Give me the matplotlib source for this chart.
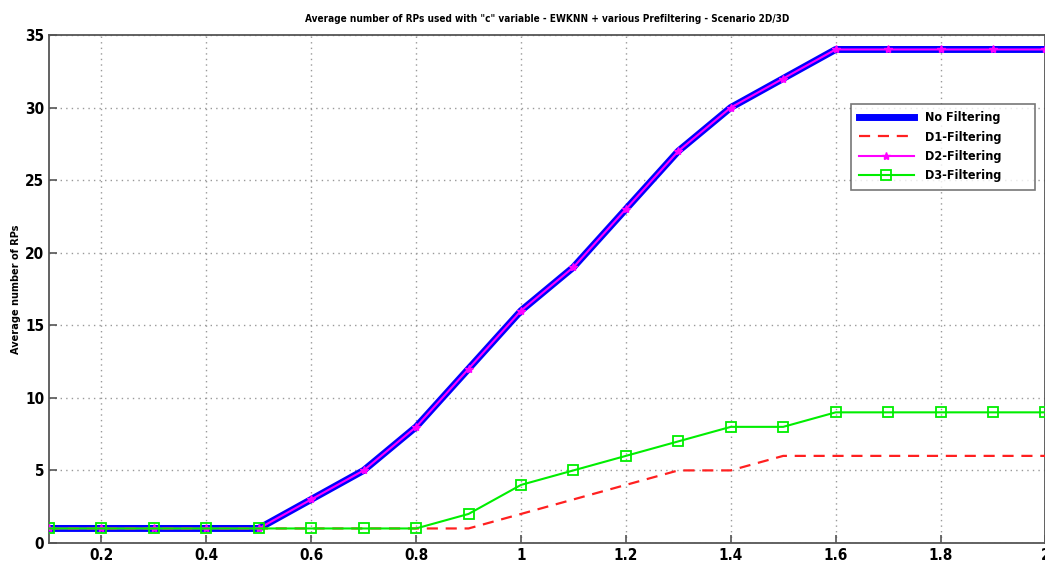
import matplotlib
matplotlib.use("Agg")
import matplotlib.pyplot as plt
from matplotlib import font_manager

# Data: average number of RPs versus the "c" parameter
c_values = [0.1, 0.2, 0.3, 0.4, 0.5, 0.6, 0.7, 0.8, 0.9, 1.0,
            1.1, 1.2, 1.3, 1.4, 1.5, 1.6, 1.7, 1.8, 1.9, 2.0]
no_filtering = [1, 1, 1, 1, 1, 3, 5, 8, 12, 16, 19, 23, 27, 30, 32, 34, 34, 34, 34, 34]
d1_filtering = [1, 1, 1, 1, 1, 1, 1, 1, 1, 2, 3, 4, 5, 5, 6, 6, 6, 6, 6, 6]
d2_filtering = [1, 1, 1, 1, 1, 3, 5, 8, 12, 16, 19, 23, 27, 30, 32, 34, 34, 34, 34, 34]
d3_filtering = [1, 1, 1, 1, 1, 1, 1, 1, 2, 4, 5, 6, 7, 8, 8, 9, 9, 9, 9, 9]

x_ticks = [0.2, 0.4, 0.6, 0.8, 1.0, 1.2, 1.4, 1.6, 1.8, 2.0]
x_tick_labels = ["0.2", "0.4", "0.6", "0.8", "1", "1.2", "1.4", "1.6", "1.8", "2"]
y_ticks = [0, 5, 10, 15, 20, 25, 30, 35]

# Prefer a condensed bold face when one is installed
condensed = [f for f in font_manager.fontManager.ttflist
             if ("Narrow" in f.name or "Condensed" in f.fname or "condensed" in str(f.stretch))
             and f.weight in ("bold", 700)]
if condensed:
    plt.rcParams["font.family"] = [condensed[0].name, "DejaVu Sans"]
    plt.rcParams["font.stretch"] = "condensed"
    scale = 1.0
else:
    plt.rcParams["font.family"] = ["Liberation Sans", "DejaVu Sans"]
    scale = 0.85
plt.rcParams["font.weight"] = "bold"

fig = plt.figure(figsize=(10.45, 5.75), dpi=100)
ax = fig.add_axes([0.0469, 0.0557, 0.9535, 0.8835])

ax.plot(c_values, no_filtering, color="#0000ff", lw=5, label="No Filtering", zorder=3)
ax.plot(c_values, d1_filtering, color="#ff2020", lw=1.6, ls=(0, (5, 3.5)), label="D1-Filtering", zorder=3)
ax.plot(c_values, d2_filtering, color="#ff00ff", lw=1.5, marker="*", ms=6,
        label="D2-Filtering", zorder=4)
ax.plot(c_values, d3_filtering, color="#00ee00", lw=1.5, marker="s", ms=7,
        mfc="none", mew=1.3, label="D3-Filtering", zorder=4)

ax.set_xlim(0.1, 2.0)
ax.set_ylim(0, 35)
ax.set_xticks(x_ticks)
ax.set_xticklabels(x_tick_labels)
ax.set_yticks(y_ticks)
ax.tick_params(direction="in", length=6, width=1.2, color="#555555", labelsize=11 * scale)
ax.grid(True, ls=(0, (1, 3)), color="#999999", lw=1.0)
for s in ax.spines.values():
    s.set_color("#555555")
    s.set_linewidth(1.3)

ax.set_title('Average number of RPs used with "c" variable - EWKNN + various Prefiltering - Scenario 2D/3D',
             fontsize=7.2 * scale, fontweight="bold", pad=9)
ax.set_ylabel("Average number of RPs", fontsize=7.8 * scale, fontweight="bold", labelpad=3)
ax.set_xlabel("c", fontsize=12 * scale, fontweight="bold", labelpad=6)

leg = ax.legend(loc="upper left", bbox_to_anchor=(851 / 1045, 1 - 104 / 575, 184 / 1045, 0),
                bbox_transform=fig.transFigure, mode="expand", fontsize=9 * scale,
                frameon=True, fancybox=False, edgecolor="#555555", handlelength=4.4,
                handletextpad=0.9, borderpad=0.6, labelspacing=0.5, borderaxespad=0)
leg.get_frame().set_linewidth(1.2)

fig.savefig("out.png", dpi=100)
